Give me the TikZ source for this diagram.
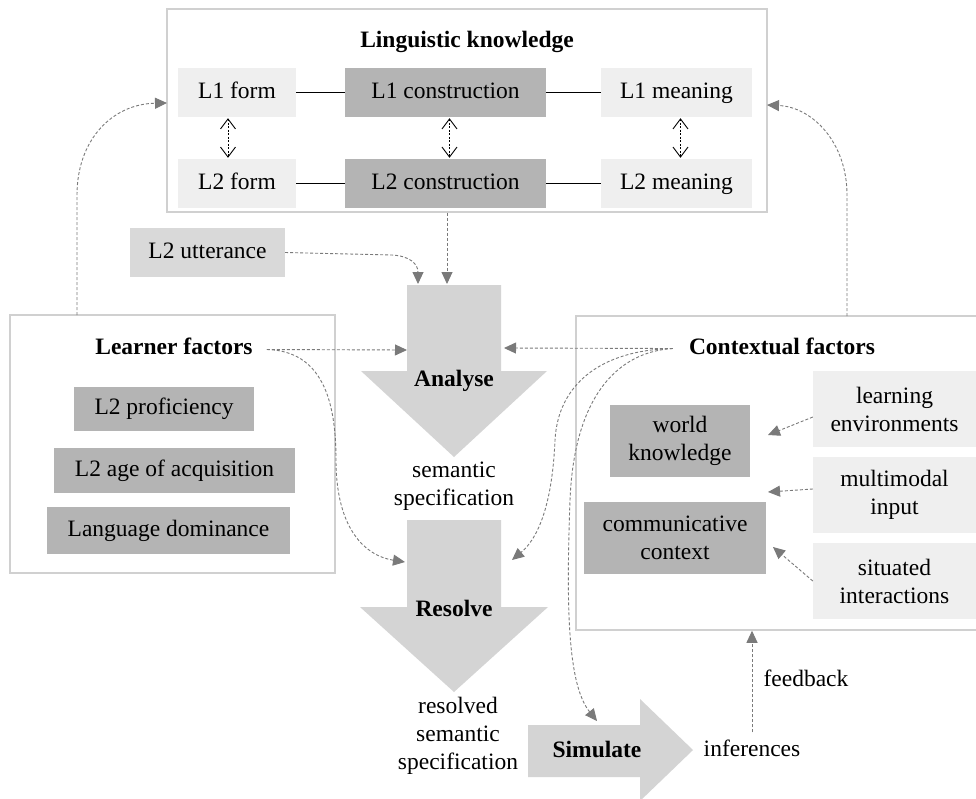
\documentclass[tikz,border=0pt]{standalone}
\usepackage{fontspec}
\setmainfont{Liberation Serif}
\usetikzlibrary{arrows.meta,calc}
\definecolor{lightbox}{HTML}{EFEFEF}
\definecolor{darkbox}{HTML}{B4B4B4}
\definecolor{midbox}{HTML}{D9D9D9}
\definecolor{bigarrow}{HTML}{D4D4D4}
\definecolor{framecol}{HTML}{D0D0D0}
\definecolor{conncol}{HTML}{7A7A7A}
\newcommand\bigsz{\fontsize{23.5}{28}\selectfont}
\begin{document}
\begin{tikzpicture}[x=1pt,y=-1pt,font=\bigsz,
  box/.style={inner sep=0pt,align=center,anchor=center,text height=16pt,text depth=5pt},
  mlbox/.style={inner sep=0pt,align=center,anchor=center},
  lbox/.style={box,fill=lightbox},
  dbox/.style={box,fill=darkbox},
  mbox/.style={box,fill=midbox},
  dbox2/.style={mlbox,fill=darkbox},
  lbox2/.style={mlbox,fill=lightbox},
  txt/.style={inner sep=0pt,align=center,text height=16pt,text depth=5pt},
  txt2/.style={inner sep=0pt,align=center},
  boldtxt/.style={txt,font=\bigsz\bfseries},
  frm/.style={draw=framecol,line width=1.5pt,inner sep=0pt},
  conn/.style={draw=conncol,line width=0.9pt,dash pattern=on 3pt off 2pt,-{Triangle[length=12pt,width=11pt]}},
  solidln/.style={draw=black,line width=0.9pt},
  dbl/.style={draw=black,line width=0.8pt,dash pattern=on 2pt off 1.5pt,{Straight Barb[length=10pt,width=15pt,line width=0.9pt]}-{Straight Barb[length=10pt,width=15pt,line width=0.9pt]}},
  bigarr/.style={fill=bigarrow}
]
\useasboundingbox (0,0) rectangle (976,798);
\clip (0,0) rectangle (976,798);
\fill[white] (0,0) rectangle (976,798);

% frames
\node[frm,minimum width=600,minimum height=203] (lk) at (467,110.5) {};
\node[frm,minimum width=325,minimum height=258] (lfr) at (172.5,444) {};
\node[frm,minimum width=414,minimum height=314] (cfr) at (783,473) {};

% linguistic knowledge
\node[boldtxt] (lkt) at (467,41.5) {Linguistic knowledge};
\node[lbox,minimum width=118,minimum height=49] (l1f) at (237,92.5) {L1 form};
\node[dbox,minimum width=201,minimum height=49] (l1c) at (445.5,92.5) {L1 construction};
\node[lbox,minimum width=151,minimum height=49] (l1m) at (676.5,92.5) {L1 meaning};
\node[lbox,minimum width=118,minimum height=49] (l2f) at (237,183.5) {L2 form};
\node[dbox,minimum width=201,minimum height=49] (l2c) at (445.5,183.5) {L2 construction};
\node[lbox,minimum width=151,minimum height=49] (l2m) at (676.5,183.5) {L2 meaning};
\draw[solidln] (l1f.east) -- (l1c.west);
\draw[solidln] (l1c.east) -- (l1m.west);
\draw[solidln] (l2f.east) -- (l2c.west);
\draw[solidln] (l2c.east) -- (l2m.west);
\draw[dbl] ($(l1f.south)+(-9,1)$) -- ($(l2f.north)+(-9,-1)$);
\draw[dbl] ($(l1c.south)+(4,1)$) -- ($(l2c.north)+(4,-1)$);
\draw[dbl] ($(l1m.south)+(4,1)$) -- ($(l2m.north)+(4,-1)$);

% L2 utterance
\node[mbox,minimum width=155,minimum height=49] (utt) at (207.5,252.5) {L2 utterance};

% big arrows
\fill[bigarr] (407,285) -- (501,285) -- (501,371) -- (547,371) -- (454,457) -- (361,371) -- (407,371) -- cycle;
\fill[bigarr] (407,520) -- (501,520) -- (501,607) -- (548,607) -- (454,692) -- (360,607) -- (407,607) -- cycle;
\fill[bigarr] (528,725) -- (640,725) -- (640,699) -- (693,750) -- (640,801) -- (640,777) -- (528,777) -- cycle;
\node[boldtxt] (an) at (454,381) {Analyse};
\node[txt2] (ss) at (454,486) {semantic\\specification};
\node[boldtxt] (rs) at (454,611) {Resolve};
\node[txt2] (rss) at (458,736) {resolved\\semantic\\specification};
\node[boldtxt] (sim) at (597,752) {Simulate};
\node[txt] (inf) at (752,751) {inferences};
\node[txt] (fb) at (806,681) {feedback};

% learner factors
\node[boldtxt] (lf) at (174,348.5) {Learner factors};
\node[dbox,minimum width=180,minimum height=44] (prof) at (164,409) {L2 proficiency};
\node[dbox,minimum width=241,minimum height=45] (age) at (174.5,470.5) {L2 age of acquisition};
\node[dbox,minimum width=243,minimum height=47] (dom) at (168.5,530.5) {Language dominance};

% contextual factors
\node[boldtxt] (cf) at (782,348.5) {Contextual factors};
\node[dbox2,minimum width=140,minimum height=72] (wk) at (680,441) {world\\knowledge};
\node[dbox2,minimum width=182,minimum height=72] (cc) at (675,538) {communicative\\context};
\node[lbox2,minimum width=163,minimum height=76] (le) at (894.5,409) {learning\\environments};
\node[lbox2,minimum width=163,minimum height=76] (mi) at (894.5,495) {multimodal\\input};
\node[lbox2,minimum width=163,minimum height=76] (si) at (894.5,581) {situated\\interactions};

% coordinates
\coordinate (aTopL) at (418,284);
\coordinate (aTopR) at (447,284);
\coordinate (aLeft) at (407,350);
\coordinate (aRight) at (504,348);
\coordinate (rLeft) at (405,562);
\coordinate (rRight) at (512,560);
\coordinate (sTop) at (597,721);
\coordinate (lfo) at ($(lf.east)+(14,1)$);
\coordinate (cfo) at ($(cf.west)+(-16,0)$);
\coordinate (lkL) at (167,103);
\coordinate (lkR) at (767,105);
\coordinate (lup) at (77,315);
\coordinate (rup) at (847,316);
\coordinate (wkT) at (768,435);
\coordinate (miT) at (768,492);
\coordinate (ccT) at (773,547);

% connectors
\draw[conn] (utt.east) -- (392,255) .. controls (410,256) and (418,264) .. (aTopL);
\draw[conn] (lk.south -| aTopR) -- (aTopR);
\draw[conn] (lfo) -- (aLeft);
\draw[conn] (lfo) .. controls (322,351) and (336,400) .. (336,460) .. controls (336,530) and (366,556) .. (rLeft);
\draw[conn] (cfo) -- (aRight);
\draw[conn] (cfo) .. controls (600,350) and (558,385) .. (555,440) .. controls (552,510) and (536,540) .. (rRight);
\draw[conn] (cfo) .. controls (615,352) and (574,400) .. (570,500) .. controls (566,610) and (568,685) .. (sTop);
\draw[conn] ($(le.west)+(0,8)$) -- (wkT);
\draw[conn] ($(mi.west)+(0,-6)$) -- (miT);
\draw[conn] ($(si.west)+(0,0)$) -- (ccT);
\draw[conn] ($(inf.north)+(0,-8)$) -- (cfr.south -| inf.north);
\draw[conn] (lup) -- (77,195) .. controls (77,140) and (112,104) .. (lkL);
\draw[conn] (rup) -- (847,195) .. controls (847,142) and (812,107) .. (lkR);
\end{tikzpicture}
\end{document}
